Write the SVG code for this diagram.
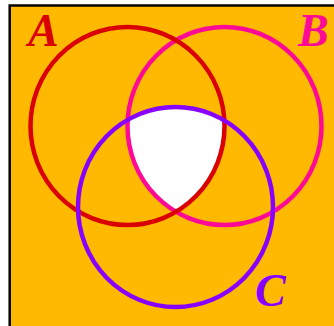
<svg xmlns="http://www.w3.org/2000/svg" width="334" height="326" viewBox="0 0 334 326">
  <style>
    .ring { fill: none; stroke-width: 4.5; }
    .lbl { font-family: "Liberation Serif", "Times New Roman", serif; font-weight: bold; font-style: italic; font-size: 46px; }
  </style>
  <defs>
    <clipPath id="clipA"><ellipse cx="127.5" cy="126" rx="97" ry="99"/></clipPath>
    <clipPath id="clipB"><ellipse cx="224.5" cy="126" rx="97" ry="99"/></clipPath>
  </defs>
  <rect x="0" y="0" width="334" height="326" fill="#ffffff"/>
  <rect id="universe" x="9.7" y="5.5" width="340" height="340" fill="#FFB900" stroke="#000000" stroke-width="2.5"/>
  <g id="intersection" clip-path="url(#clipA)">
    <g clip-path="url(#clipB)">
      <ellipse cx="175.5" cy="207" rx="97.5" ry="100" fill="#ffffff"/>
    </g>
  </g>
  <g id="B">
    <ellipse class="ring" cx="224.5" cy="126" rx="97" ry="99" stroke="#FF0A96"/>
    <text class="lbl" x="298" y="46" fill="#FF0A96">B</text>
  </g>
  <g id="A">
    <ellipse class="ring" cx="127.5" cy="126" rx="97" ry="99" stroke="#DA0000"/>
    <text class="lbl" x="28" y="46" fill="#DA0000">A</text>
  </g>
  <g id="C">
    <ellipse class="ring" cx="175.5" cy="207" rx="97.5" ry="100" stroke="#8800FF"/>
    <text class="lbl" x="255" y="306" fill="#8800FF">C</text>
  </g>
</svg>
